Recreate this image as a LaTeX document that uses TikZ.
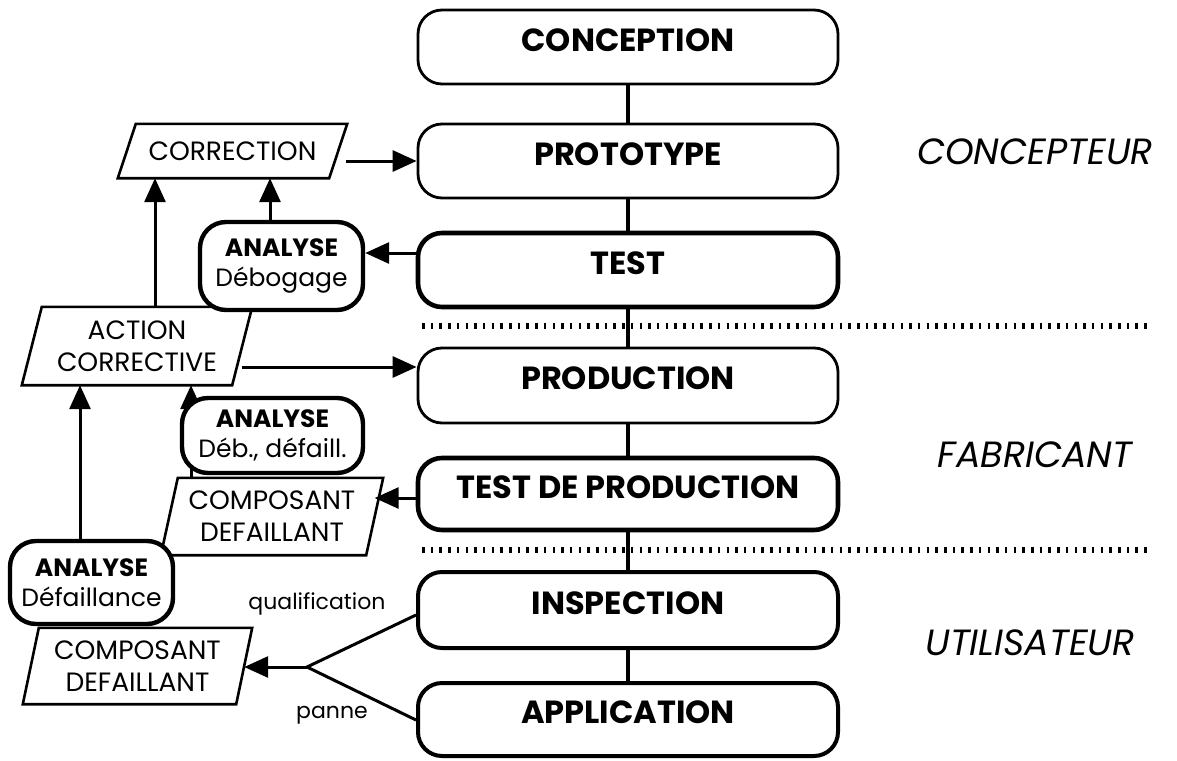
\documentclass[tikz,border=0pt]{standalone}
\usepackage{fontspec}
\setmainfont{Poppins}
\usetikzlibrary{arrows.meta,backgrounds}
\newcommand\myparallelogram[6]{%
  \node[paratext, minimum width=#3, minimum height=#4] (#1) at (#2) {#6};
  \draw[parabord] ([xshift=#5]#1.north west) -- ([xshift=#5]#1.north east)
    -- ([xshift=-#5]#1.south east) -- ([xshift=-#5]#1.south west) -- cycle;}
\begin{document}
\begin{tikzpicture}[x=1pt,y=-1pt,
  mainbox/.style={draw, rounded corners=24pt, minimum width=420pt, line width=2.8pt,
    fill=white, inner sep=0pt, text depth=14pt, font=\fontsize{32}{36}\selectfont\bfseries},
  thickbox/.style={mainbox, line width=4.6pt},
  anabox/.style={draw, rounded corners=26pt, line width=4.4pt, fill=white, inner sep=0pt,
    align=center, font=\fontsize{25}{30}\selectfont},
  paratext/.style={inner sep=0pt, align=center, font=\fontsize{26.5}{32}\selectfont},
  parabord/.style={line width=2.6pt, line join=miter},
  conn/.style={line width=3.6pt},
  arr/.style={line width=3pt, -{Triangle[length=24pt,width=21pt]}},
  side/.style={font=\fontsize{36.5}{40}\selectfont\itshape},
  small/.style={font=\fontsize{22}{26}\selectfont},
  dotline/.style={line width=6pt, dash pattern=on 2.5pt off 6.2pt}]
\useasboundingbox (0,0) rectangle (1177,760);

% main column
\node[mainbox, minimum height=74pt] (CONC) at (628,47) {CONCEPTION};
\node[mainbox, minimum height=74pt] (PROTO) at (628,161) {PROTOTYPE};
\node[thickbox, minimum height=74pt] (TEST) at (628,270) {TEST};
\node[mainbox, minimum height=75pt] (PROD) at (628,385.5) {PRODUCTION};
\node[thickbox, minimum height=72pt] (TDP) at (628,494) {TEST DE PRODUCTION};
\node[thickbox, line width=4pt, minimum height=76pt] (INSP) at (628,610) {INSPECTION};
\node[thickbox, line width=4pt, minimum height=73pt] (APPL) at (628,719.5) {APPLICATION};

% side labels
\node[side] (L1) at (1035,152) {CONCEPTEUR};
\node[side] (L2) at (1035,455) {FABRICANT};
\node[side] (L3) at (1030,643) {UTILISATEUR};

% separators
\coordinate (S1a) at (422,326); \coordinate (S1b) at (1150,326);
\coordinate (S2a) at (422,550); \coordinate (S2b) at (1150,550);

% left side
\myparallelogram{CORR}{232.5,151}{211pt}{54pt}{9pt}{CORRECTION}
\myparallelogram{AC}{137,346}{210pt}{78pt}{10pt}{ACTION\\CORRECTIVE}
\myparallelogram{UC}{272,516.5}{205pt}{77pt}{8.5pt}{COMPOSANT\\DEFAILLANT}
\myparallelogram{LC}{137.5,666}{213pt}{76pt}{8pt}{COMPOSANT\\DEFAILLANT}

\node[anabox, minimum width=163pt, minimum height=88pt] (AD) at (281.5,266)
  {\textbf{ANALYSE}\\Débogage};
\node[anabox, minimum width=181pt, minimum height=75pt] (ADD) at (272.5,435.5)
  {\textbf{ANALYSE}\\Déb., défaill.};
\node[anabox, minimum width=163pt, minimum height=83pt] (ADF) at (91.5,582.5)
  {\textbf{ANALYSE}\\Défaillance};

\node[small] (Q) at (317,604) {qualification};
\node[small] (P) at (332,715) {panne};

% helper coordinates
\coordinate (x80) at (80,0);
\coordinate (x155) at (155,0);
\coordinate (x191) at (191,0);
\coordinate (x270) at (270,0);
\coordinate (y253) at (0,253);
\coordinate (y367) at (0,367);
\coordinate (y498) at (0,498);
\coordinate (y615) at (0,615);
\coordinate (y720) at (0,720);
\coordinate (F) at (307,667);

\begin{scope}[on background layer]
  \draw[dotline] (S1a) -- (S1b);
  \draw[dotline] (S2a) -- (S2b);
  \draw[conn] (CONC.south) -- (PROTO.north);
  \draw[conn] (PROTO.south) -- (TEST.north);
  \draw[conn] (TEST.south) -- (PROD.north);
  \draw[conn] (PROD.south) -- (TDP.north);
  \draw[conn] (TDP.south) -- (INSP.north);
  \draw[conn] (INSP.south) -- (APPL.north);
  \draw[arr] (ADD.center -| x191) -- (AC.south -| x191);
  \draw[conn, line width=3pt] (UC.north -| x191) -- (ADD.center -| x191);
\end{scope}

\draw[arr, shorten <=8pt] (CORR.east |- PROTO.west) -- (PROTO.west);
\draw[arr] (TEST.west |- y253) -- (AD.east |- y253);
\draw[arr] (AD.north -| x270) -- (CORR.south -| x270);
\draw[arr] (AC.north -| x155) -- (CORR.south -| x155);
\draw[arr] (AC.east |- y367) -- (PROD.west |- y367);
\draw[arr] (ADF.north -| x80) -- (AC.south -| x80);
\draw[arr] (TDP.west |- y498) -- (UC.east |- y498);
\draw[line width=3pt] (INSP.west |- y615) -- (F) -- (APPL.west |- y720);
\draw[arr] (F) -- (LC.east |- F);
\end{tikzpicture}
\end{document}
